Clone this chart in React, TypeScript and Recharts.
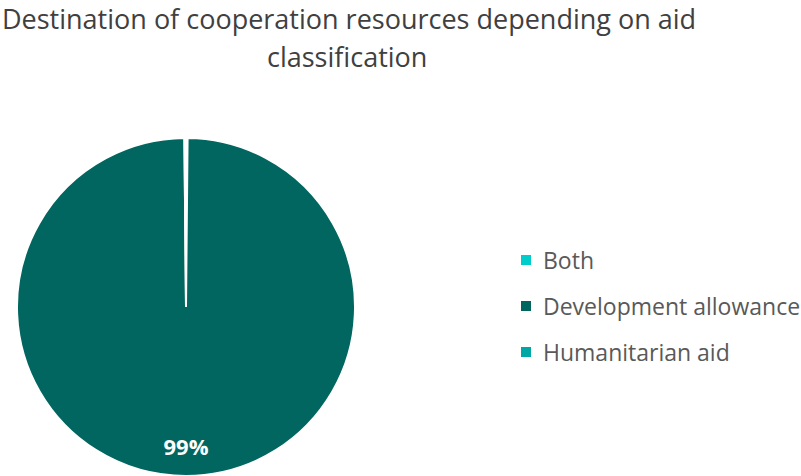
import React from "react";
import { PieChart, Pie, Cell } from "recharts";

const categories = ["Both", "Development allowance", "Humanitarian aid"];
const shares = [0.15, 99.7, 0.15];
const labels = ["", "99%", ""];
const colors = ["#00CCCC", "#00665F", "#00A8A5"];

const pieData = categories.map((name, i) => ({
  name,
  value: shares[i],
  label: labels[i],
}));

const RADIAN = Math.PI / 180;

const renderLabel = (props: any) => {
  const { cx, cy, midAngle, outerRadius, payload } = props;
  if (!payload.label) return null;
  const r = outerRadius * 0.82;
  const x = cx + r * Math.cos(-midAngle * RADIAN);
  const y = cy + r * Math.sin(-midAngle * RADIAN);
  return (
    <text
      x={x}
      y={y}
      fill="#ffffff"
      fontSize={22}
      fontWeight="bold"
      textAnchor="middle"
      dominantBaseline="central"
      fontFamily="'Open Sans', sans-serif"
    >
      {payload.label}
    </text>
  );
};

export default function App() {
  return (
    <div
      style={{
        position: "absolute",
        left: 0,
        top: 0,
        width: 801,
        height: 476,
        background: "#fff",
        overflow: "hidden",
      }}
    >
      <div
        style={{
          position: "absolute",
          left: 2,
          top: 0,
          width: 799,
          fontFamily: "'Open Sans', sans-serif",
          fontSize: 27,
          color: "#404040",
          lineHeight: "normal",
        }}
      >
        <div style={{ whiteSpace: "nowrap" }}>
          Destination of cooperation resources depending on aid
        </div>
        <div style={{ paddingLeft: 265, marginTop: 1 }}>classification</div>
      </div>
      <PieChart
        width={801}
        height={476}
        margin={{ top: 0, right: 0, bottom: 0, left: 0 }}
        style={{ position: "absolute", left: 0, top: 0 }}
      >
        <Pie
          data={pieData}
          dataKey="value"
          nameKey="name"
          cx={186}
          cy={307}
          outerRadius={169}
          startAngle={90}
          endAngle={-270}
          stroke="#ffffff"
          strokeWidth={2}
          label={renderLabel}
          labelLine={false}
          isAnimationActive={false}
        >
          {pieData.map((d, i) => (
            <Cell key={d.name} fill={colors[i]} />
          ))}
        </Pie>
      </PieChart>
      <div
        style={{
          position: "absolute",
          left: 521,
          top: 237,
          fontFamily: "'Open Sans', sans-serif",
        }}
      >
        {pieData.map((d, i) => (
          <div
            key={d.name}
            style={{ display: "flex", alignItems: "center", height: 46 }}
          >
            <span
              style={{
                width: 10,
                height: 10,
                background: colors[i],
                marginRight: 12,
                display: "inline-block",
              }}
            />
            <span style={{ fontSize: 23, color: "#595959", whiteSpace: "nowrap" }}>
              {d.name}
            </span>
          </div>
        ))}
      </div>
    </div>
  );
}
